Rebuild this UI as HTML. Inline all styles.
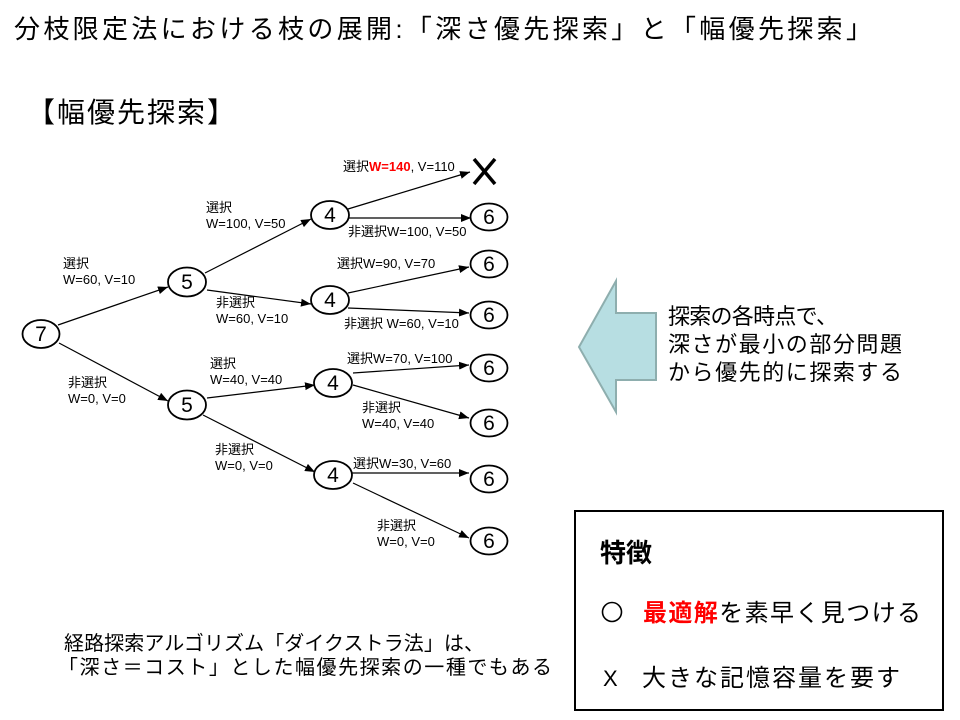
<!DOCTYPE html>
<html><head><meta charset="utf-8"><style>
html,body{margin:0;padding:0;background:#fff;}
svg{display:block;font-family:"Liberation Sans","Noto Sans CJK JP",sans-serif;}
.lb{font-size:13px;fill:#000;}
.nd{font-size:21px;fill:#000;text-anchor:middle;}
</style></head><body>
<svg width="960" height="720" viewBox="0 0 960 720" xmlns="http://www.w3.org/2000/svg">
<defs>
<marker id="ar" markerUnits="userSpaceOnUse" markerWidth="12" markerHeight="10" refX="10" refY="4" orient="auto">
<path d="M0,0 L10,4 L0,8 z" fill="#000"/>
</marker>
</defs>
<rect width="960" height="720" fill="#fff"/>
<text x="14" y="38" font-size="26" textLength="858" lengthAdjust="spacing">分枝限定法における枝の展開:「深さ優先探索」と「幅優先探索」</text>
<text x="27" y="122" font-size="28" textLength="208" lengthAdjust="spacing">【幅優先探索】</text>

<g stroke="#000" stroke-width="1.2" fill="none" marker-end="url(#ar)">
<line x1="58" y1="325" x2="168" y2="287"/>
<line x1="59" y1="343" x2="168" y2="401"/>
<line x1="205" y1="273" x2="311" y2="219"/>
<line x1="207" y1="290" x2="311" y2="304"/>
<line x1="348" y1="209" x2="470" y2="172"/>
<line x1="349" y1="218" x2="471" y2="218"/>
<line x1="348" y1="293" x2="469" y2="267"/>
<line x1="348" y1="308" x2="469" y2="313"/>
<line x1="207" y1="398" x2="315" y2="385"/>
<line x1="203" y1="415" x2="315" y2="472"/>
<line x1="353" y1="373" x2="469" y2="365"/>
<line x1="353" y1="385" x2="469" y2="418"/>
<line x1="351" y1="473" x2="469" y2="473"/>
<line x1="353" y1="483" x2="469" y2="538"/>
</g>

<g stroke="#000" stroke-width="1.8" fill="#fff">
<ellipse cx="41" cy="334" rx="18.5" ry="14"/>
<ellipse cx="187" cy="282" rx="19" ry="14.5"/>
<ellipse cx="187" cy="405" rx="19" ry="14.5"/>
<ellipse cx="330" cy="215" rx="19" ry="14"/>
<ellipse cx="330" cy="300" rx="19" ry="14"/>
<ellipse cx="333" cy="383" rx="19" ry="14"/>
<ellipse cx="333" cy="475" rx="19" ry="14"/>
<ellipse cx="489" cy="217" rx="18.5" ry="13.5"/>
<ellipse cx="489" cy="264" rx="18.5" ry="13.5"/>
<ellipse cx="489" cy="315" rx="18.5" ry="13.5"/>
<ellipse cx="489" cy="368" rx="18.5" ry="13.5"/>
<ellipse cx="489" cy="423" rx="18.5" ry="13.5"/>
<ellipse cx="489" cy="479" rx="18.5" ry="13.5"/>
<ellipse cx="489" cy="541" rx="18.5" ry="13.5"/>
</g>
<g stroke="#000" stroke-width="3.5">
<line x1="474" y1="159" x2="495" y2="184"/>
<line x1="495" y1="159" x2="474" y2="184"/>
</g>

<text class="nd" x="41" y="341">7</text>
<text class="nd" x="187" y="289">5</text>
<text class="nd" x="187" y="412">5</text>
<text class="nd" x="330" y="222">4</text>
<text class="nd" x="330" y="307">4</text>
<text class="nd" x="333" y="390">4</text>
<text class="nd" x="333" y="482">4</text>
<text class="nd" x="489" y="224">6</text>
<text class="nd" x="489" y="271">6</text>
<text class="nd" x="489" y="322">6</text>
<text class="nd" x="489" y="375">6</text>
<text class="nd" x="489" y="430">6</text>
<text class="nd" x="489" y="486">6</text>
<text class="nd" x="489" y="548">6</text>

<text class="lb" x="63" y="268">選択</text>
<text class="lb" x="63" y="284">W=60, V=10</text>
<text class="lb" x="206" y="212">選択</text>
<text class="lb" x="206" y="228">W=100, V=50</text>
<text class="lb" x="216" y="307">非選択</text>
<text class="lb" x="216" y="323">W=60, V=10</text>
<text class="lb" x="343" y="171">選択<tspan fill="#ff0000" font-weight="bold">W=140</tspan>, V=110</text>
<text class="lb" x="348" y="236">非選択W=100, V=50</text>
<text class="lb" x="337" y="268">選択W=90, V=70</text>
<text class="lb" x="344" y="328">非選択 W=60, V=10</text>
<text class="lb" x="68" y="387">非選択</text>
<text class="lb" x="68" y="403">W=0, V=0</text>
<text class="lb" x="210" y="368">選択</text>
<text class="lb" x="210" y="384">W=40, V=40</text>
<text class="lb" x="347" y="363">選択W=70, V=100</text>
<text class="lb" x="362" y="412">非選択</text>
<text class="lb" x="362" y="428">W=40, V=40</text>
<text class="lb" x="215" y="454">非選択</text>
<text class="lb" x="215" y="470">W=0, V=0</text>
<text class="lb" x="353" y="468">選択W=30, V=60</text>
<text class="lb" x="377" y="530">非選択</text>
<text class="lb" x="377" y="546">W=0, V=0</text>

<polygon points="579,347 616,281 616,313 656,313 656,380 616,380 616,412" fill="#b7dee2" stroke="#8eaeae" stroke-width="2"/>
<text x="668" y="324" font-size="22" textLength="170" lengthAdjust="spacing">探索の各時点で、</text>
<text x="668" y="352" font-size="22" textLength="234" lengthAdjust="spacing">深さが最小の部分問題</text>
<text x="668" y="380" font-size="22" textLength="234" lengthAdjust="spacing">から優先的に探索する</text>

<rect x="575" y="511" width="368" height="199" fill="#fff" stroke="#000" stroke-width="2"/>
<text x="600" y="562" font-size="26" font-weight="bold">特徴</text>
<circle cx="612" cy="612" r="9.5" fill="none" stroke="#000" stroke-width="1.6"/>
<text x="643" y="621" font-size="24" textLength="278" lengthAdjust="spacing"><tspan fill="#ff0000" font-weight="bold">最適解</tspan>を素早く見つける</text>
<text x="603" y="686" font-size="22">X</text>
<text x="642" y="686" font-size="24" textLength="258" lengthAdjust="spacing">大きな記憶容量を要す</text>

<text x="64" y="650" font-size="20" textLength="420" lengthAdjust="spacing">経路探索アルゴリズム「ダイクストラ法」は、</text>
<text x="58" y="674" font-size="20" textLength="494" lengthAdjust="spacing">「深さ＝コスト」とした幅優先探索の一種でもある</text>
</svg>
</body></html>
